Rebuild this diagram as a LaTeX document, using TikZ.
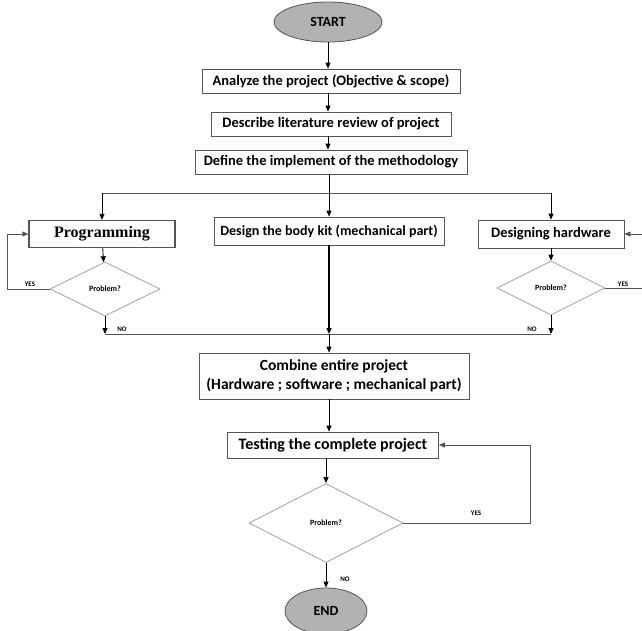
\documentclass[tikz,border=0pt]{standalone}
\usepackage{fontspec}
\setmainfont{Carlito}
\newfontfamily\progfont{Liberation Serif}
\usetikzlibrary{arrows.meta, positioning, shapes.geometric, calc}
\definecolor{boxgray}{RGB}{85,85,85}
\definecolor{diagray}{RGB}{160,160,160}
\definecolor{termgray}{RGB}{178,178,178}

\tikzset{
  procbox/.style={draw=boxgray, thick, fill=white, inner sep=2pt, minimum height=24pt,
    font=\bfseries\fontsize{14.5}{17}\selectfont},
  decision/.style={diamond, draw=diagray, thick, inner sep=0pt,
    font=\bfseries\fontsize{8}{9}\selectfont},
  terminal/.style={ellipse, draw=boxgray, thick, fill=termgray, inner sep=0pt,
    font=\bfseries\fontsize{14}{17}\selectfont},
  flow/.style={-{Triangle[length=6pt,width=5pt]}, thick},
  link/.style={thick, draw=boxgray},
  tag/.style={font=\bfseries\fontsize{7}{8}\selectfont}
}

\begin{document}
\begin{tikzpicture}[x=1pt, y=-1pt]
  \useasboundingbox (0,0) rectangle (642,630);

  % Main column
  \node[terminal, minimum width=108, minimum height=40] (start) at (328,22) {START};
  \node[procbox, minimum width=258] (analyze) at (331,81) {Analyze the project (Objective \& scope)};
  \node[procbox, minimum width=240] (describe) at (331,124) {Describe literature review of project};
  \node[procbox, minimum width=272] (define) at (331,162) {Define the implement of the methodology};

  % Three branches
  \node[procbox, minimum width=146, minimum height=27, line width=1.2pt, font=\progfont\bfseries\fontsize{16}{18}\selectfont] (prog) at (102,234) {Programming};
  \node[procbox, minimum width=230, minimum height=28, font=\bfseries\fontsize{14}{16}\selectfont] (body) at (329,231) {Design the body kit (mechanical part)};
  \node[procbox, minimum width=146, minimum height=28] (hw) at (551,234) {Designing hardware};
  \node[decision, minimum width=110, minimum height=54] (progq) at (105,289) {Problem?};
  \node[decision, minimum width=108, minimum height=54] (hwq) at (551,288) {Problem?};

  % Joining and testing
  \node[procbox, minimum width=270, minimum height=46, align=center, inner sep=1pt, font=\bfseries\fontsize{15.5}{19}\selectfont] (combine) at (334,376)
    {Combine entire project\\(Hardware ; software ; mechanical part)};
  \node[procbox, minimum width=211, minimum height=26, font=\bfseries\fontsize{16}{18}\selectfont] (testing) at (333,445) {Testing the complete project};
  \node[decision, minimum width=154, minimum height=79] (testq) at (326,523) {Problem?};
  \node[terminal, minimum width=82, minimum height=46] (end) at (326,611) {END};

  \coordinate (split) at (329,193);
  \coordinate (merge) at (329,334);

  % Top arrows
  \draw[flow] (start) -- (start |- analyze.north);
  \draw[flow] (start |- analyze.south) -- (start |- describe.north);
  \draw[flow] (start |- describe.south) -- (start |- define.north);
  \draw[flow] (split |- define.south) -- (split |- body.north);
  \draw[link] (split -| prog) -- (split -| hw);
  \draw[flow] (split -| prog) -- (prog);
  \draw[flow] (split -| hw) -- (hw);

  % Programming loop
  \draw[flow] (prog) -- (progq);
  \draw[link, -{Triangle[length=6pt,width=5pt]}] (progq.west) -- ++(-42,0) |- (prog.west);
  \node[tag] (progyes) at (30,284) {YES};
  \draw[flow] (progq.south) -- (progq.south |- merge);
  \node[tag] (progno) at (122,329) {NO};

  % Hardware loop
  \draw[flow] (hw) -- (hwq);
  \draw[link, -{Triangle[length=6pt,width=5pt]}] (hwq.east) -- ++(48,0) |- (hw.east);
  \node[tag] (hwyes) at (623,284) {YES};
  \draw[flow] (hwq.south) -- (hwq.south |- merge);
  \node[tag] (hwno) at (532,329) {NO};

  % Merge line
  \draw[link] (progq.south |- merge) -- (hwq.south |- merge);
  \draw[flow, line width=1.4pt] (body) -- (merge);
  \draw[flow] (merge) -- (merge |- combine.north);

  % Testing loop
  \draw[flow] (merge |- combine.south) -- (merge |- testing.north);
  \draw[flow] (testq |- testing.south) -- (testq);
  \draw[link, -{Triangle[length=6pt,width=5pt]}] (testq.east) -- (530,523) |- (testing.east);
  \node[tag] (testyes) at (476,513) {YES};
  \draw[flow] (testq) -- (end);
  \node[tag] (testno) at (345,579) {NO};
\end{tikzpicture}
\end{document}
